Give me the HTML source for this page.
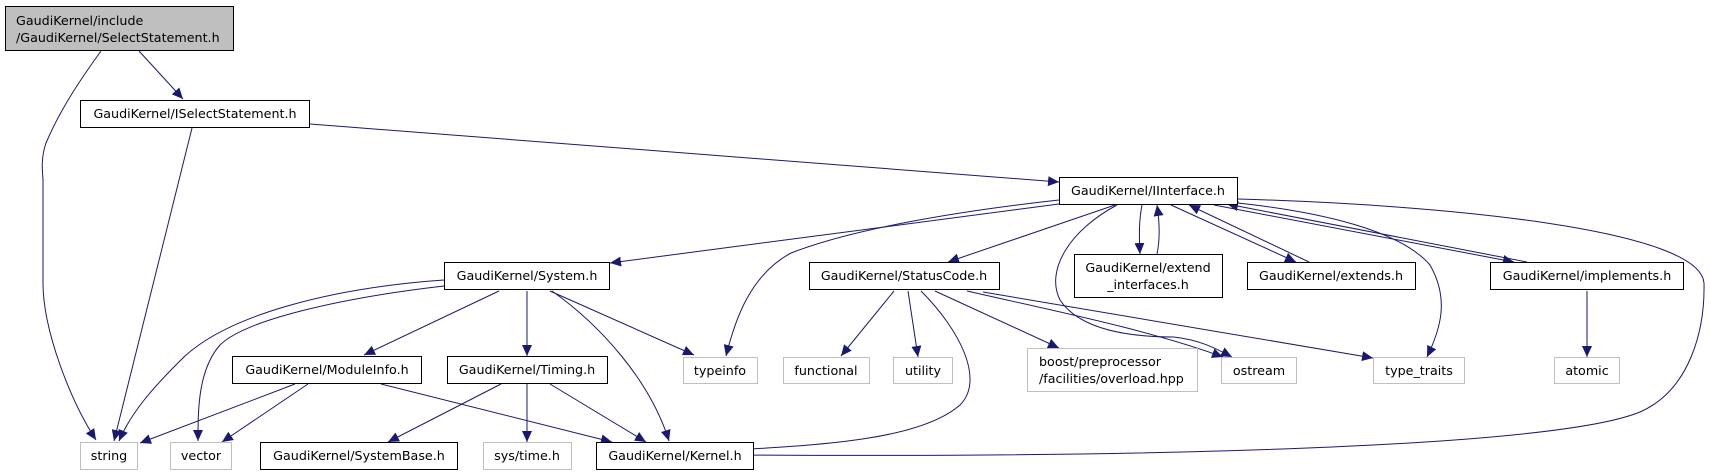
<!DOCTYPE html>
<html><head><meta charset="utf-8"><style>
html,body{margin:0;padding:0;background:#fff;}
svg{display:block;}
text{font-family:"DejaVu Sans","Liberation Sans",sans-serif;font-size:12.7px;fill:#000;}
.b{fill:#fff;stroke:#000;stroke-width:1;}
.g{fill:#fff;stroke:#bfbfbf;stroke-width:1;}
.e{fill:none;stroke:#191970;stroke-width:1;}
</style></head><body>
<svg width="1710" height="476" viewBox="0 0 1710 476" xmlns="http://www.w3.org/2000/svg">
<defs>
<marker id="a" markerUnits="userSpaceOnUse" markerWidth="12" markerHeight="10" refX="11" refY="5" orient="auto">
<path d="M0,0 L11,5 L0,10 z" fill="#191970"/>
</marker>
</defs>
<g marker-end="url(#a)">
<path class="e" d="M101,51 C80,80 60,110 46,143 C40,160 43,175 43,180 L43,283 C43,330 70,400 96,440"/>
<path class="e" d="M139,51 L183,99"/>
<path class="e" d="M192,128 L114,441"/>
<path class="e" d="M310,124 L1059,182"/>
<path class="e" d="M444,280 C330,288 230,315 185,356 C150,390 130,415 119,441"/>
<path class="e" d="M444,286 C340,298 245,320 220,345 C198,370 198,410 198,441"/>
<path class="e" d="M499,291 L364,355"/>
<path class="e" d="M527,291 L527,356"/>
<path class="e" d="M550,291 L694,355"/>
<path class="e" d="M552,291 C600,325 650,380 669,441"/>
<path class="e" d="M295,384 L140,443"/>
<path class="e" d="M308,384 L222,442"/>
<path class="e" d="M381,384 L612,442"/>
<path class="e" d="M501,384 L388,442"/>
<path class="e" d="M527,384 L527,442"/>
<path class="e" d="M550,384 L646,442"/>
<path class="e" d="M1059,204 L610,263"/>
<path class="e" d="M1059,200 C950,212 850,230 791,253 C750,275 735,320 726,356"/>
<path class="e" d="M1115,205 L948,262"/>
<path class="e" d="M1117,205 C1070,230 1045,270 1060,300 C1080,330 1130,337 1174,337 C1200,340 1215,348 1232,357"/>
<path class="e" d="M1142,205 C1139,220 1139,235 1140,254"/>
<path class="e" d="M1157,254 C1160,240 1160,225 1157,205"/>
<path class="e" d="M1171,205 L1296,262"/>
<path class="e" d="M1309,262 L1189,205"/>
<path class="e" d="M1214,205 L1514,262"/>
<path class="e" d="M1527,262 L1227,204"/>
<path class="e" d="M1238,203 C1320,212 1400,230 1430,265 C1450,300 1440,330 1427,357"/>
<path class="e" d="M1238,199 C1450,205 1700,230 1704,283 C1705,330 1690,390 1640,412 C1560,445 1200,458 734,455"/>
<path class="e" d="M894,291 L841,356"/>
<path class="e" d="M908,291 L918,357"/>
<path class="e" d="M921,291 C960,330 985,380 960,405 C920,440 820,445 734,450"/>
<path class="e" d="M935,291 L1059,348"/>
<path class="e" d="M967,291 C1050,310 1150,330 1223,357"/>
<path class="e" d="M983,292 L1373,358"/>
<path class="e" d="M1587,291 L1587,357"/>
</g>
<!-- nodes -->
<rect x="5.5" y="6.5" width="228" height="44" fill="#bfbfbf" stroke="#000"/>
<text x="16" y="25">GaudiKernel/include</text>
<text x="16" y="42">/GaudiKernel/SelectStatement.h</text>

<rect class="b" x="80.5" y="100.5" width="229" height="27"/>
<text x="195" y="118" text-anchor="middle">GaudiKernel/ISelectStatement.h</text>

<rect class="b" x="1059.5" y="177.5" width="178" height="27"/>
<text x="1148" y="195" text-anchor="middle">GaudiKernel/IInterface.h</text>

<rect class="b" x="444.5" y="262.5" width="165" height="27"/>
<text x="527" y="280" text-anchor="middle">GaudiKernel/System.h</text>

<rect class="b" x="809.5" y="262.5" width="190" height="27"/>
<text x="904" y="280" text-anchor="middle">GaudiKernel/StatusCode.h</text>

<rect class="b" x="1074.5" y="254.5" width="148" height="43"/>
<text x="1148" y="272" text-anchor="middle">GaudiKernel/extend</text>
<text x="1148" y="289" text-anchor="middle">_interfaces.h</text>

<rect class="b" x="1247.5" y="262.5" width="168" height="27"/>
<text x="1331" y="280" text-anchor="middle">GaudiKernel/extends.h</text>

<rect class="b" x="1490.5" y="262.5" width="193" height="27"/>
<text x="1587" y="280" text-anchor="middle">GaudiKernel/implements.h</text>

<rect class="b" x="232.5" y="356.5" width="189" height="27"/>
<text x="327" y="374" text-anchor="middle">GaudiKernel/ModuleInfo.h</text>

<rect class="b" x="447.5" y="356.5" width="160" height="27"/>
<text x="527" y="374" text-anchor="middle">GaudiKernel/Timing.h</text>

<rect class="g" x="683.5" y="357.5" width="74" height="26"/>
<text x="720" y="375" text-anchor="middle">typeinfo</text>
<rect class="g" x="783.5" y="357.5" width="86" height="26"/>
<text x="826" y="375" text-anchor="middle">functional</text>
<rect class="g" x="893.5" y="357.5" width="59" height="26"/>
<text x="923" y="375" text-anchor="middle">utility</text>
<rect class="g" x="1027.5" y="348.5" width="170" height="43"/>
<text x="1039" y="366">boost/preprocessor</text>
<text x="1039" y="383">/facilities/overload.hpp</text>
<rect class="g" x="1221.5" y="357.5" width="75" height="26"/>
<text x="1259" y="375" text-anchor="middle">ostream</text>
<rect class="g" x="1373.5" y="357.5" width="91" height="26"/>
<text x="1419" y="375" text-anchor="middle">type_traits</text>
<rect class="g" x="1554.5" y="357.5" width="65" height="26"/>
<text x="1587" y="375" text-anchor="middle">atomic</text>

<rect class="g" x="80.5" y="442.5" width="57" height="27"/>
<text x="109" y="460" text-anchor="middle">string</text>
<rect class="g" x="170.5" y="442.5" width="61" height="27"/>
<text x="201" y="460" text-anchor="middle">vector</text>
<rect class="b" x="260.5" y="442.5" width="197" height="27"/>
<text x="359" y="460" text-anchor="middle">GaudiKernel/SystemBase.h</text>
<rect class="g" x="483.5" y="442.5" width="88" height="27"/>
<text x="527" y="460" text-anchor="middle">sys/time.h</text>
<rect class="b" x="596.5" y="442.5" width="157" height="27"/>
<text x="675" y="460" text-anchor="middle">GaudiKernel/Kernel.h</text>
</svg>
</body></html>
